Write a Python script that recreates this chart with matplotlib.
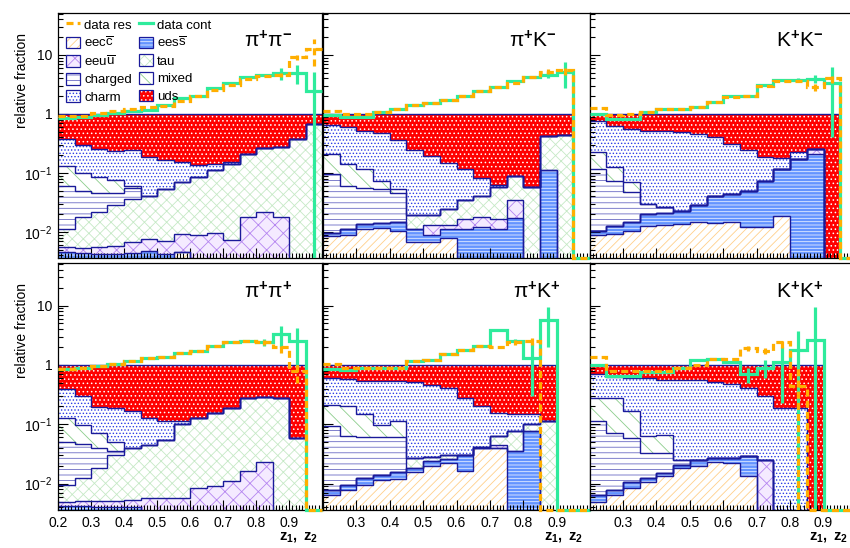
import numpy as np
import matplotlib
matplotlib.use("Agg")
import matplotlib.pyplot as plt
from matplotlib.patches import Patch
from matplotlib.lines import Line2D
from matplotlib.legend_handler import HandlerTuple
from matplotlib.ticker import FixedLocator, MultipleLocator, LogLocator, NullFormatter

plt.rcParams.update({
    "font.family": ["Liberation Sans", "DejaVu Sans"],
    "mathtext.fontset": "custom",
    "mathtext.rm": "Liberation Sans",
    "mathtext.it": "Liberation Sans:italic",
    "mathtext.bf": "Liberation Sans:bold",
    "hatch.linewidth": 0.6,
})

EDGES = np.round(np.arange(0.2, 1.0001, 0.05), 2)
YMIN, YMAX = 3.6e-3, 52.0

# stacked layers, bottom to top; each list is the upper edge of that layer
LAYERS = ["eecc", "eess", "eeuu", "tau", "charged", "mixed", "charm", "uds"]

pipm_stack = [
    [0.002, 0.002, 0.002, 0.002, 0.002, 0.002, 0.002, 0.0045, 0, 0, 0, 0, 0, 0, 0, 0],
    [0.0045, 0.0043, 0.0042, 0.0042, 0.0043, 0.0048, 0.0042, 0.0046, 0, 0, 0, 0, 0, 0, 0, 0],
    [0.0055, 0.0053, 0.0055, 0.0058, 0.0067, 0.0076, 0.007, 0.0093, 0.009, 0.0096, 0.0072, 0.0178, 0.022, 0.018, 0, 0],
    [0.011, 0.018, 0.0215, 0.028, 0.036, 0.041, 0.054, 0.07, 0.085, 0.11, 0.142, 0.21, 0.26, 0.27, 0.377, 0.68],
    [0.06, 0.05, 0.045, 0.045, 0.055, 0.041, 0.054, 0.07, 0.085, 0.11, 0.142, 0.21, 0.26, 0.27, 0.377, 0.68],
    [0.13, 0.10, 0.085, 0.075, 0.06, 0.041, 0.054, 0.07, 0.085, 0.11, 0.142, 0.21, 0.26, 0.27, 0.377, 0.68],
    [0.377, 0.30, 0.255, 0.233, 0.24, 0.185, 0.166, 0.152, 0.138, 0.14, 0.152, 0.21, 0.26, 0.27, 0.377, 0.68],
    [1] * 16,
]
pikm_stack = [
    [0.0085, 0.0088, 0.011, 0.0115, 0.0105, 0.0068, 0.0068, 0.0078, 0, 0, 0, 0, 0, 0, 0, 0],
    [0.0095, 0.0112, 0.0135, 0.0142, 0.0145, 0.011, 0.009, 0.011, 0.011, 0.012, 0.011, 0.017, 0, 0.114, 0, 0],
    [0.0095, 0.0112, 0.0135, 0.0142, 0.0145, 0.011, 0.0129, 0.013, 0.0166, 0.018, 0.0163, 0.034, 0, 0.114, 0, 0],
    [0.0095, 0.0112, 0.0135, 0.0142, 0.0145, 0.019, 0.019, 0.0245, 0.034, 0.041, 0.057, 0.088, 0.057, 0.43, 0.44, 0],
    [0.096, 0.061, 0.056, 0.054, 0.045, 0.019, 0.019, 0.0245, 0.034, 0.041, 0.057, 0.088, 0.057, 0.43, 0.44, 0],
    [0.21, 0.142, 0.117, 0.074, 0.054, 0.019, 0.019, 0.0245, 0.034, 0.041, 0.057, 0.088, 0.057, 0.43, 0.44, 0],
    [0.65, 0.594, 0.51, 0.476, 0.354, 0.24, 0.19, 0.148, 0.117, 0.082, 0.063, 0.088, 0.057, 0.43, 0.44, 0],
    [1] * 15 + [0],
]
kkm_stack = [
    [0.0087, 0.0093, 0.0105, 0.0128, 0.013, 0.0137, 0.0146, 0.014, 0.0146, 0.012, 0.012, 0.0184, 0, 0, 0, 0],
    [0.0105, 0.0128, 0.0146, 0.0202, 0.021, 0.023, 0.028, 0.041, 0.044, 0.05, 0.074, 0.117, 0.17, 0.21, 0, 0],
    [0.0105, 0.0128, 0.0146, 0.0202, 0.021, 0.023, 0.028, 0.041, 0.044, 0.05, 0.074, 0.117, 0.17, 0.25, 0, 0],
    [0.0105, 0.0128, 0.0146, 0.0202, 0.021, 0.023, 0.028, 0.041, 0.044, 0.05, 0.074, 0.117, 0.17, 0.25, 0, 0],
    [0.117, 0.074, 0.047, 0.03, 0.026, 0.023, 0.028, 0.041, 0.044, 0.05, 0.074, 0.117, 0.17, 0.25, 0, 0],
    [0.224, 0.125, 0.069, 0.03, 0.026, 0.023, 0.028, 0.041, 0.044, 0.05, 0.074, 0.117, 0.17, 0.25, 0, 0],
    [0.77, 0.63, 0.557, 0.52, 0.51, 0.49, 0.458, 0.40, 0.31, 0.24, 0.185, 0.177, 0.224, 0.25, 0, 0],
    [1] * 15 + [0],
]
pipp_stack = [
    [0.002, 0.002, 0.002, 0.002, 0.002, 0, 0, 0, 0, 0, 0, 0, 0, 0, 0, 0],
    [0.0042, 0.0042, 0.004, 0.004, 0.004, 0, 0, 0, 0, 0, 0, 0, 0, 0, 0, 0],
    [0.005, 0.0052, 0.0052, 0.0052, 0.0053, 0.0057, 0.0057, 0.0057, 0.0083, 0.009, 0.011, 0.0164, 0.023, 0, 0, 0],
    [0.0095, 0.0123, 0.018, 0.03, 0.04, 0.045, 0.055, 0.10, 0.128, 0.155, 0.19, 0.28, 0.29, 0.28, 0.059, 0],
    [0.051, 0.046, 0.04, 0.035, 0.04, 0.045, 0.055, 0.10, 0.128, 0.155, 0.19, 0.28, 0.29, 0.28, 0.059, 0],
    [0.128, 0.099, 0.07, 0.05, 0.04, 0.045, 0.055, 0.10, 0.128, 0.155, 0.19, 0.28, 0.29, 0.28, 0.059, 0],
    [0.39, 0.30, 0.195, 0.19, 0.166, 0.128, 0.113, 0.113, 0.128, 0.155, 0.19, 0.28, 0.29, 0.28, 0.059, 0],
    [1] * 15 + [0],
]
pikp_stack = [
    [0.0064, 0.0078, 0.0095, 0.0115, 0.012, 0.016, 0.02, 0.022, 0.0165, 0.04, 0.04, 0, 0, 0, 0, 0],
    [0.0078, 0.0095, 0.0123, 0.014, 0.016, 0.0185, 0.024, 0.026, 0.03, 0.04, 0.04, 0.035, 0.076, 0, 0, 0],
    [0.0078, 0.0095, 0.0123, 0.014, 0.016, 0.0185, 0.024, 0.026, 0.03, 0.04, 0.045, 0.035, 0.076, 0, 0, 0],
    [0.0078, 0.0095, 0.0123, 0.014, 0.016, 0.027, 0.028, 0.03, 0.03, 0.042, 0.063, 0.076, 0.10, 0.115, 0, 0],
    [0.093, 0.063, 0.06, 0.06, 0.06, 0.027, 0.028, 0.03, 0.03, 0.042, 0.063, 0.076, 0.10, 0.115, 0, 0],
    [0.215, 0.20, 0.15, 0.098, 0.115, 0.027, 0.028, 0.03, 0.03, 0.042, 0.063, 0.076, 0.10, 0.115, 0, 0],
    [0.61, 0.59, 0.535, 0.535, 0.535, 0.52, 0.46, 0.41, 0.28, 0.20, 0.155, 0.15, 0.15, 0.115, 0, 0],
    [1] * 14 + [0, 0],
]
kkp_stack = [
    [0.005, 0.0064, 0.0083, 0.0106, 0.0137, 0.018, 0.02, 0.023, 0.022, 0.0137, 0, 0, 0, 0, 0, 0],
    [0.0064, 0.0078, 0.0106, 0.0125, 0.015, 0.021, 0.025, 0.027, 0.027, 0.029, 0, 0, 0, 0, 0, 0],
    [0.0064, 0.0078, 0.0106, 0.0125, 0.015, 0.021, 0.025, 0.027, 0.027, 0.029, 0.025, 0, 0, 0, 0, 0],
    [0.0064, 0.0078, 0.0106, 0.0125, 0.015, 0.021, 0.025, 0.027, 0.027, 0.029, 0.025, 0, 0, 0, 0, 0],
    [0.113, 0.071, 0.059, 0.033, 0.033, 0.025, 0.025, 0.027, 0.027, 0.029, 0.025, 0, 0, 0, 0, 0],
    [0.28, 0.28, 0.166, 0.063, 0.067, 0.025, 0.025, 0.027, 0.027, 0.029, 0.025, 0, 0, 0, 0, 0],
    [0.70, 0.62, 0.60, 0.60, 0.55, 0.55, 0.55, 0.52, 0.48, 0.41, 0.30, 0.19, 0.19, 0, 0, 0],
    [1] * 14 + [0, 0],
]

# data over MC, resonance and continuum samples, with errors
pipm_res = [0.91, 0.91, 1.04, 1.14, 1.22, 1.30, 1.38, 1.68, 2.04, 2.58, 3.1, 3.9, 4.46, 4.58, 9.1, 12.6]
pipm_res_err = [0, 0, 0, 0, 0, 0, 0, 0, 0, 0, 0, 0, 0, 0.3, 0.8, 6.0]
pipm_cont = [0.86, 0.88, 0.97, 1.02, 1.10, 1.18, 1.42, 1.85, 2.05, 2.7, 3.35, 4.3, 4.5, 4.9, 4.96, 2.45]
pipm_cont_err = [0, 0, 0, 0, 0, 0, 0, 0, 0, 0, 0, 0, 0, 1.2, 1.8, 2.7]

pikm_res = [1.14, 1.0, 1.0, 1.07, 1.22, 1.42, 1.54, 1.73, 2.0, 2.4, 2.9, 3.4, 4.2, 5.2, 5.6, 0]
pikm_res_err = [0, 0, 0, 0, 0, 0, 0, 0, 0, 0, 0, 0, 0, 0.5, 1.0, 0]
pikm_cont = [0.96, 0.88, 0.9, 1.07, 1.22, 1.42, 1.54, 1.73, 2.0, 2.4, 2.9, 3.6, 4.2, 4.6, 5.2, 0]
pikm_cont_err = [0, 0, 0, 0, 0, 0, 0, 0, 0, 0, 0, 0, 0, 0.6, 2.5, 0]

kkm_res = [1.26, 0.94, 0.98, 1.07, 1.22, 1.22, 1.3, 1.6, 1.9, 2.0, 3.0, 3.6, 3.6, 2.9, 4.1, 0]
kkm_res_err = [0, 0, 0, 0, 0, 0, 0, 0, 0, 0, 0, 0, 0, 0.5, 0.8, 0]
kkm_cont = [1.0, 0.82, 0.82, 1.07, 1.22, 1.22, 1.3, 1.6, 2.0, 2.0, 3.1, 3.8, 3.8, 3.9, 3.3, 0]
kkm_cont_err = [0, 0, 0, 0, 0, 0, 0, 0, 0, 0, 0, 0, 0.3, 0.6, 2.9, 0]

pipp_res = [0.85, 0.9, 0.96, 1.05, 1.17, 1.3, 1.35, 1.6, 1.73, 2.1, 2.45, 2.5, 2.4, 2.0, 0.79, 0]
pipp_res_err = [0, 0, 0, 0, 0, 0, 0, 0, 0, 0, 0, 0, 0.2, 0.4, 0.3, 0]
pipp_cont = [0.85, 0.9, 0.96, 1.05, 1.17, 1.3, 1.35, 1.6, 1.73, 2.1, 2.45, 2.5, 2.4, 3.3, 2.55, 0]
pipp_cont_err = [0, 0, 0, 0, 0, 0, 0, 0, 0, 0, 0, 0, 0.3, 1.3, 1.6, 0]

pikp_res = [1.05, 0.9, 0.9, 0.9, 0.9, 1.17, 1.2, 1.55, 1.75, 2.1, 2.0, 2.4, 2.5, 0, 0, 0]
pikp_res_err = [0, 0, 0, 0, 0, 0, 0, 0, 0, 0, 0, 0.2, 0.3, 0, 0, 0]
pikp_cont = [0.85, 0.83, 0.87, 0.87, 0.87, 1.17, 1.2, 1.55, 1.75, 2.1, 3.9, 2.5, 1.3, 5.7, 0, 0]
pikp_cont_err = [0, 0, 0, 0, 0, 0, 0, 0, 0, 0, 0.2, 0.2, 1.0, 3.7, 0, 0]

kkp_res = [1.37, 0.79, 0.79, 0.8, 0.8, 0.9, 1.0, 1.25, 1.25, 1.9, 1.73, 2.4, 0.44, 0, 0, 0]
kkp_res_err = [0, 0, 0, 0, 0, 0, 0, 0, 0, 0.2, 0.2, 0.5, 0.5, 0, 0, 0]
kkp_cont = [1.0, 0.65, 0.65, 0.75, 0.75, 0.9, 1.2, 1.28, 1.14, 0.7, 0.9, 1.13, 1.77, 2.6, 0, 0]
kkp_cont_err = [0, 0, 0, 0, 0, 0, 0, 0, 0, 0.2, 0.3, 0.9, 1.9, 6.8, 0, 0]

# name, legend text, fill colour, hatch, hatch colour
STYLES = [
    ("eecc", r"eec$\overline{\mathrm{c}}$", "white", "////", "#ffcf8a"),
    ("eess", r"ees$\overline{\mathrm{s}}$", "#6494ff", "-----", "#e4ecff"),
    ("eeuu", r"eeu$\overline{\mathrm{u}}$", "#f4eaff", "xx", "#b585f0"),
    ("tau", "tau", "white", "xxx", "#c6e9c6"),
    ("charged", "charged", "white", "---", "#6b6bc4"),
    ("mixed", "mixed", "white", "\\\\", "#8ccc8c"),
    ("charm", "charm", "white", ".....", "#2a3ce6"),
    ("uds", "uds", "#ff0000", "....", "#ffffff"),
]
OUTLINE = "#1a1a9a"
RES_COLOR = "#ffae00"
CONT_COLOR = "#2eeb9c"

PANELS = [
    (r"π$^{\mathbf{+}}$π$^{\mathbf{-}}$", pipm_stack, pipm_res, pipm_res_err, pipm_cont, pipm_cont_err, (0.795, 0.886)),
    (r"π$^{\mathbf{+}}$K$^{\mathbf{-}}$", pikm_stack, pikm_res, pikm_res_err, pikm_cont, pikm_cont_err, (0.786, 0.886)),
    (r"K$^{\mathbf{+}}$K$^{\mathbf{-}}$", kkm_stack, kkm_res, kkm_res_err, kkm_cont, kkm_cont_err, (0.787, 0.886)),
    (r"π$^{\mathbf{+}}$π$^{\mathbf{+}}$", pipp_stack, pipp_res, pipp_res_err, pipp_cont, pipp_cont_err, (0.795, 0.883)),
    (r"π$^{\mathbf{+}}$K$^{\mathbf{+}}$", pikp_stack, pikp_res, pikp_res_err, pikp_cont, pikp_cont_err, (0.80, 0.883)),
    (r"K$^{\mathbf{+}}$K$^{\mathbf{+}}$", kkp_stack, kkp_res, kkp_res_err, kkp_cont, kkp_cont_err, (0.787, 0.883)),
]

W, H = 850, 548
COLS = [(58, 322), (323, 590), (589.5, 857)]
ROWS = [(12.7, 258), (263, 510)]


def frame(x0, x1, y0, y1):
    return [x0 / W, 1 - y1 / H, (x1 - x0) / W, (y1 - y0) / H]


def draw_panel(ax, stack, res, res_err, cont, cont_err):
    floor = 1e-6
    lower = np.full(len(EDGES) - 1, floor)
    for level, (_, _, fc, hatch, hc) in zip(stack, STYLES):
        upper = np.maximum(np.asarray(level, float), floor)
        ax.stairs(upper, EDGES, baseline=lower, fill=True, facecolor=fc,
                  edgecolor=hc, hatch=hatch, linewidth=0, zorder=1)
        lower = upper
    for level in stack:
        upper = np.maximum(np.asarray(level, float), floor)
        ax.stairs(upper, EDGES, baseline=None, color=OUTLINE, lw=1.0, zorder=2)

    centers = 0.5 * (EDGES[:-1] + EDGES[1:])
    for vals, errs, color, ls, z in [(cont, cont_err, CONT_COLOR, "-", 4),
                                     (res, res_err, RES_COLOR, (0, (2.2, 1.3)), 5)]:
        v = np.clip(np.asarray(vals, float), YMIN, YMAX)
        ax.stairs(v, EDGES, baseline=None, color=color, lw=2.3, ls=ls,
                  zorder=z, clip_on=False)
        e = np.asarray(errs, float)
        m = e > 0
        lo = np.clip(np.asarray(vals, float) - e, YMIN, YMAX)
        hi = np.clip(np.asarray(vals, float) + e, YMIN, YMAX)
        ax.vlines(centers[m], lo[m], hi[m], color=color, lw=2.3,
                  linestyles=ls, zorder=z)


fig = plt.figure(figsize=(W / 100, H / 100), dpi=100)
axes = []
for r, (y0, y1) in enumerate(ROWS):
    for c, (x0, x1) in enumerate(COLS):
        axes.append(fig.add_axes(frame(x0, x1, y0, y1)))

for i, (ax, (title, stack, res, res_err, cont, cont_err, tpos)) in enumerate(zip(axes, PANELS)):
    row, col = divmod(i, 3)
    ax.set_yscale("log")
    draw_panel(ax, stack, res, res_err, cont, cont_err)
    ax.set_xlim(0.2, 1.0)
    ax.set_ylim(YMIN, YMAX)
    ax.text(tpos[0], tpos[1], title, transform=ax.transAxes, ha="center",
            va="center", fontsize=15, zorder=6)

    ax.yaxis.set_major_locator(FixedLocator([1e-2, 1e-1, 1, 10]))
    ax.yaxis.set_minor_locator(LogLocator(base=10, subs=np.arange(2, 10)))
    ax.yaxis.set_minor_formatter(NullFormatter())
    if col == 0:
        ax.set_yticklabels([r"10$^{-2}$", r"10$^{-1}$", "1", "10"], fontsize=10)
    else:
        ax.set_yticklabels([])

    xt = [0.2, 0.3, 0.4, 0.5, 0.6, 0.7, 0.8, 0.9] if col == 0 else [0.3, 0.4, 0.5, 0.6, 0.7, 0.8, 0.9]
    ax.xaxis.set_major_locator(FixedLocator(xt))
    ax.xaxis.set_minor_locator(MultipleLocator(0.01))
    if row == 1:
        ax.set_xticklabels([f"{t:.1f}" for t in xt], fontsize=10)
    else:
        ax.set_xticklabels([])
    ax.tick_params(which="both", direction="in", top=False, right=False, width=0.8)
    ax.tick_params(which="major", length=7, pad=4)
    ax.tick_params(which="minor", length=3.5)
    for s in ax.spines.values():
        s.set_linewidth(0.9)

# legend inside the first panel
line_res = Line2D([], [], color=RES_COLOR, lw=2.3, ls=(0, (2.2, 1.3)))
line_cont = Line2D([], [], color=CONT_COLOR, lw=2.3)


def box(style):
    _, _, fc, hatch, hc = style
    return (Patch(facecolor=fc, edgecolor=hc, hatch=hatch, lw=0),
            Patch(facecolor="none", edgecolor=OUTLINE, lw=0.9))


by_name = {s[0]: s for s in STYLES}
col1 = [(line_res, "data res")] + [(box(by_name[n]), by_name[n][1]) for n in ["eecc", "eeuu", "charged", "charm"]]
col2 = [(line_cont, "data cont")] + [(box(by_name[n]), by_name[n][1]) for n in ["eess", "tau", "mixed", "uds"]]
handles = [h for h, _ in col1 + col2]
labels = [l for _, l in col1 + col2]
axes[0].legend(handles, labels, ncol=2, loc="upper left", bbox_to_anchor=(0.0, 1.01),
               frameon=False, fontsize=9.5, handlelength=1.1, handleheight=1.0,
               handletextpad=0.3, labelspacing=0.32, columnspacing=0.5,
               borderaxespad=0.2, handler_map={tuple: HandlerTuple(ndivide=1)})

for (y0, y1) in ROWS:
    fig.text(22 / W, 1 - (y0 + 20) / H, "relative fraction", rotation=90,
             ha="center", va="top", fontsize=10)

for right in [318, 583, 848]:
    fig.text(right / W, 1 - 537 / H, r"$\mathbf{z_{1},\ z_{2}}$", ha="right",
             va="center", fontsize=10.5)

fig.savefig("out.png", dpi=100)
